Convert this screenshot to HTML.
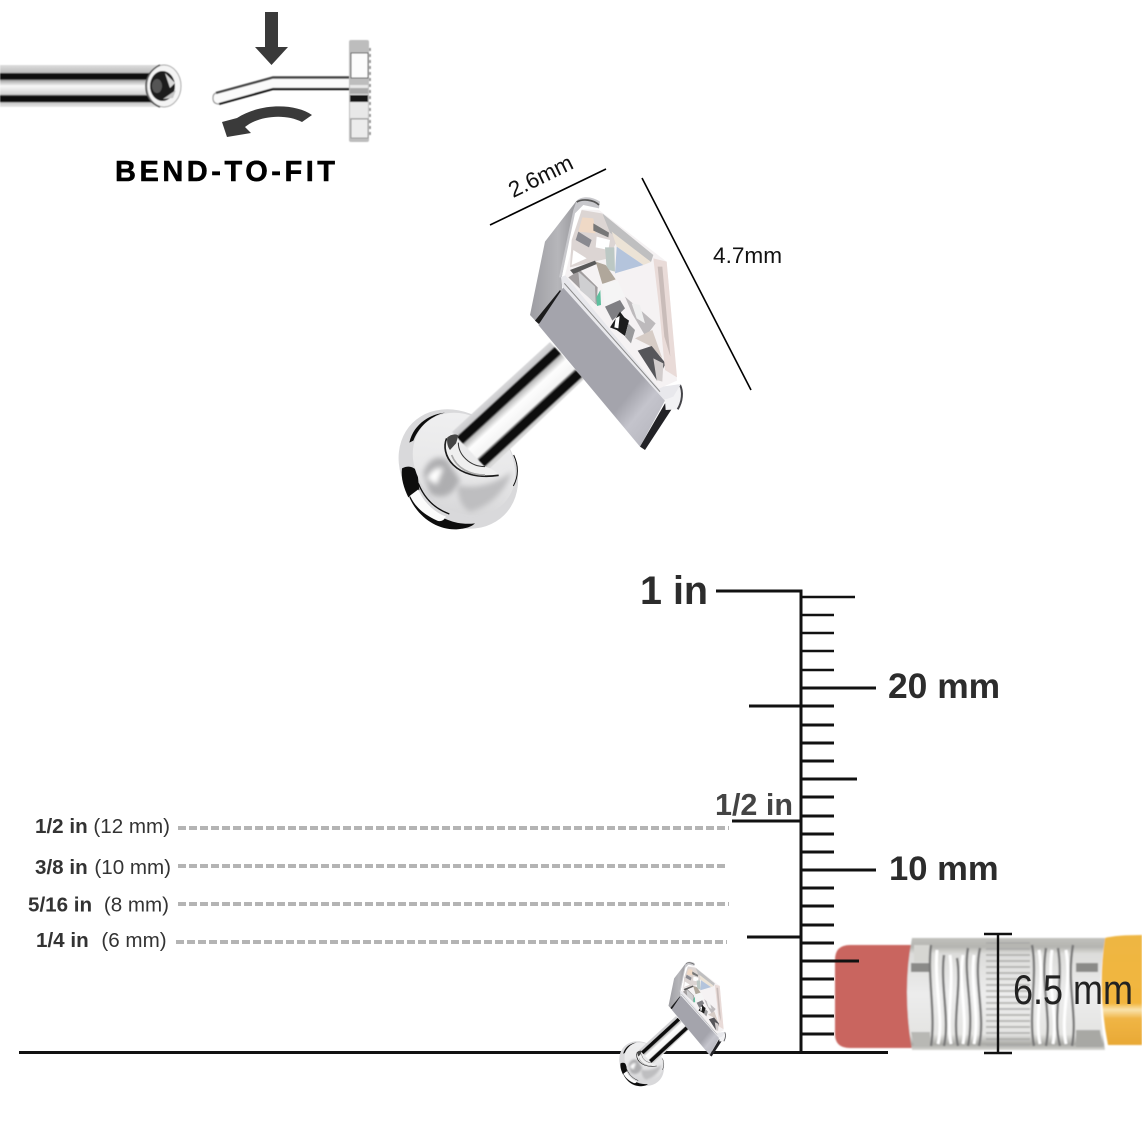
<!DOCTYPE html>
<html><head><meta charset="utf-8"><style>
html,body{margin:0;padding:0;background:#fff;width:1142px;height:1142px;overflow:hidden}
svg{display:block}
text{font-family:"Liberation Sans",sans-serif}
</style></head><body>
<svg width="1142" height="1142" viewBox="0 0 1142 1142" xmlns="http://www.w3.org/2000/svg">
<defs>
<filter id="b1" x="-10%" y="-10%" width="120%" height="120%"><feGaussianBlur stdDeviation=".8"/></filter>
<filter id="b2" x="-10%" y="-10%" width="120%" height="120%"><feGaussianBlur stdDeviation=".45"/></filter>
<filter id="b3" x="-30%" y="-30%" width="160%" height="160%"><feGaussianBlur stdDeviation="8"/></filter>
<linearGradient id="rod" x1="0" y1="0" x2="0" y2="1">
<stop offset="0" stop-color="#dedede"/><stop offset=".18" stop-color="#bcbcbc"/><stop offset=".21" stop-color="#0a0a0a"/><stop offset=".33" stop-color="#0a0a0a"/><stop offset=".37" stop-color="#aaa"/><stop offset=".5" stop-color="#f8f8f8"/><stop offset=".7" stop-color="#d2d2d2"/><stop offset=".74" stop-color="#0a0a0a"/><stop offset=".87" stop-color="#0a0a0a"/><stop offset=".9" stop-color="#c8c8c8"/><stop offset="1" stop-color="#e8e8e8"/>
</linearGradient>
<linearGradient id="stem" gradientUnits="userSpaceOnUse" x1="550" y1="342" x2="584" y2="379">
<stop offset="0" stop-color="#d8d8da"/><stop offset=".12" stop-color="#c9c9cb"/><stop offset=".15" stop-color="#0a0a0a"/><stop offset=".3" stop-color="#0a0a0a"/><stop offset=".34" stop-color="#b8b8b8"/><stop offset=".48" stop-color="#fdfdfd"/><stop offset=".72" stop-color="#f4f4f4"/><stop offset=".78" stop-color="#0a0a0a"/><stop offset=".93" stop-color="#0a0a0a"/><stop offset=".96" stop-color="#c4c4c4"/><stop offset="1" stop-color="#d8d8d8"/>
</linearGradient>
<linearGradient id="front" gradientUnits="userSpaceOnUse" x1="545" y1="330" x2="660" y2="425">
<stop offset="0" stop-color="#a4a4ac"/><stop offset=".4" stop-color="#c4c4cc"/><stop offset=".75" stop-color="#bcbcc4"/><stop offset="1" stop-color="#b0b0b8"/>
</linearGradient>
<linearGradient id="side" x1="0" y1="0" x2="1" y2="0">
<stop offset="0" stop-color="#9d9da2"/><stop offset=".6" stop-color="#b6b6ba"/><stop offset="1" stop-color="#98989c"/>
</linearGradient>
<linearGradient id="disc" x1="0" y1="0" x2="1" y2="1">
<stop offset="0" stop-color="#f2f2f3"/><stop offset=".55" stop-color="#e8e8e9"/><stop offset="1" stop-color="#cfcfd1"/>
</linearGradient>
<linearGradient id="fer" x1="0" y1="0" x2="0" y2="1">
<stop offset="0" stop-color="#c0c0bc"/><stop offset=".08" stop-color="#b4b4b0"/><stop offset=".14" stop-color="#dcdcda"/><stop offset=".5" stop-color="#ececec"/><stop offset=".86" stop-color="#e4e4e2"/><stop offset=".95" stop-color="#a8a8a4"/><stop offset="1" stop-color="#d8d8d4"/>
</linearGradient>
<linearGradient id="yel" x1="0" y1="0" x2="0" y2="1">
<stop offset="0" stop-color="#eeb643"/><stop offset=".62" stop-color="#f2b53d"/><stop offset=".68" stop-color="#f9e2ac"/><stop offset=".76" stop-color="#f0b545"/><stop offset="1" stop-color="#e8a835"/>
</linearGradient>
<g id="stud">
 <g transform="translate(390 400) scale(.33333)" filter="url(#b2)">
  <ellipse cx="205" cy="207" rx="195" ry="162" transform="rotate(45 205 207)" fill="#d9d9db"/>
  <path d="M36 205C55 195 72 200 82 215L88 270L55 292C42 265 32 235 36 205Z" fill="#0e0e0e"/>
  <path d="M58 292C85 352 140 390 200 388C228 386 245 380 255 370C190 378 120 350 84 268Z" fill="#0e0e0e"/>
  <path d="M60 287L85 268C100 305 130 335 168 350C160 364 150 366 140 361C105 345 75 322 60 287Z" fill="#fbfbfb"/>
  <ellipse cx="222" cy="192" rx="168" ry="138" transform="rotate(45 222 192)" fill="url(#disc)"/>
  <path d="M70 122C90 72 130 46 165 38C125 42 72 68 58 128Z" fill="#0e0e0e"/>
  <path d="M85 250C105 300 140 328 178 342" fill="none" stroke="#111" stroke-width="4"/>
  <path d="M100 220C112 180 140 165 170 178L210 240C190 290 150 300 120 280Z" fill="#aeaeb0" filter="url(#b3)"/>
  <path d="M110 235C125 205 145 200 160 205L140 255Z" fill="#fff" filter="url(#b3)"/>
  <path d="M200 255C260 270 320 250 365 215C350 270 300 320 240 335C210 320 205 285 200 255Z" fill="#bebec0" filter="url(#b3)"/>
  <path d="M371 165C385 195 388 225 370 258" fill="none" stroke="#111" stroke-width="3"/>
 </g>
 <polygon points="550,342 584,379 488,470 452,432" fill="url(#stem)" filter="url(#b2)"/>
 <g transform="translate(390 400) scale(.33333)" filter="url(#b2)">
  <path d="M170 115C195 98 210 108 205 128C205 165 240 200 285 200C305 205 320 215 326 226C240 250 150 190 170 115Z" fill="#efefef"/>
  <path d="M170 115C150 160 190 245 326 226" fill="none" stroke="#1a1a1a" stroke-width="5"/>
  <path d="M172 112C185 102 200 100 205 108L198 130L180 150C172 140 170 125 172 112Z" fill="#444"/>
  <path d="M205 128C205 165 240 200 285 200" fill="none" stroke="#333" stroke-width="3"/>
  <path d="M185 165C200 205 240 225 285 225" fill="none" stroke="#aaa" stroke-width="5"/>
 </g>
 <g transform="translate(525 190) scale(.33333)" filter="url(#b2)">
  <polygon points="155,32 60,155 15,375 40,402 112,310 110,262 148,62" fill="url(#side)"/>
  <path d="M155,32C170,18 200,18 225,35L222,55L175,45L150,70L110,262L102,262L145,60Z" fill="#c8c8cc"/>
  <path d="M155,36C172,26 205,28 222,45" fill="none" stroke="#555" stroke-width="5"/>
  <polygon points="30,392 105,300 115,312 42,402" fill="#1a1a1e"/>
  <polygon points="40,405 115,292 420,632 345,770" fill="url(#front)"/>
  <polygon points="345,770 420,640 445,650 360,780" fill="#222226"/>
  <polygon points="420,632 440,610 468,585 472,620 458,658 422,660" fill="#f2f2f4"/>
  <path d="M465,585C475,605 472,635 458,658" fill="none" stroke="#44444a" stroke-width="6"/>
  <polygon points="108,262 122,255 412,590 468,582 445,620 418,630 112,290" fill="#e8e8ec"/>
  <path d="M118,280L405,605" stroke="#888" stroke-width="3" fill="none"/>
  <polygon points="170,58 222,60 425,215 456,572 402,596 120,255" fill="#f5f2f3"/>
  <polygon points="170,60 230,70 285,135 250,205 135,232 140,150" fill="#dcd5d3"/>
  <polygon points="172,82 205,85 212,130 160,125" fill="#efd9c6"/>
  <polygon points="205,100 252,128 250,142 205,122" fill="#777"/>
  <polygon points="160,125 200,150 192,172 152,150" fill="#8a8a90"/>
  <polygon points="215,140 255,150 250,180 212,172" fill="#fff"/>
  <polygon points="145,180 185,205 140,225" fill="#fff"/>
  <polygon points="232,70 385,195 378,216 255,128" fill="#bfbfc0"/>
  <polygon points="260,125 378,216 355,225 275,170" fill="#ece3d6"/>
  <polygon points="275,170 355,225 270,250" fill="#b4c4dc"/>
  <polygon points="240,172 268,172 270,245 245,238" fill="#bcc8c4"/>
  <polygon points="212,215 242,225 272,268 232,282" fill="#b0a79b"/>
  <polygon points="130,262 165,240 218,292 215,345" fill="#a19d9e"/>
  <polygon points="160,245 210,290 212,340 165,300" fill="#cfcfd1"/>
  <polygon points="135,240 210,212 215,222 145,252" fill="#5a5a5a"/>
  <polygon points="214,322 226,300 228,345 216,348" fill="#5fbf9e"/>
  <polygon points="230,282 278,272 300,320 240,350" fill="#f5f5f5"/>
  <polygon points="240,350 285,330 300,355 262,392" fill="#7f7f83"/>
  <polygon points="300,320 392,400 362,440 322,372" fill="#bdbabc"/>
  <polygon points="320,340 345,345 360,400 335,385" fill="#efefef"/>
  <polygon points="255,412 285,365 298,382 312,392 300,438 275,420" fill="#1c1c1e"/>
  <polygon points="272,385 284,378 280,415 268,412" fill="#fff"/>
  <polygon points="310,400 330,420 318,460 300,440" fill="#9a9a9c"/>
  <polygon points="330,445 382,420 412,505 380,470" fill="#d6ccc6"/>
  <polygon points="338,482 380,468 422,520 396,572" fill="#56565a"/>
  <polygon points="385,505 415,520 412,575 395,570" fill="#d2cdcd"/>
  <polygon points="385,205 425,215 456,562 420,540 402,350" fill="#e9dbd8"/>
  <polygon points="398,230 412,230 436,500 418,440" fill="#c9bcb9"/>
 </g>
</g>
</defs>

<!-- rod top-left -->
<rect x="0" y="65" width="166" height="42" fill="url(#rod)" filter="url(#b2)"/>
<g filter="url(#b2)">
<ellipse cx="164" cy="86" rx="17" ry="21" fill="#f4f4f4" stroke="#aaa" stroke-width="1"/>
<path d="M160 65C150 70 146 78 146 86C146 95 150 103 160 107" fill="none" stroke="#555" stroke-width="1.5"/>
<ellipse cx="162.5" cy="86" rx="12.5" ry="15" fill="#1a1a1a"/>
<polygon points="165,73 175,83 170,88" fill="#d8d8d8"/>
<polygon points="163,99 176,90 173,98" fill="#c4c4c4"/>
<ellipse cx="157" cy="86" rx="5" ry="7" fill="#555"/>
</g>

<!-- down arrow -->
<polygon points="265,12 278,12 278,47 288,47 271.5,65 255,47 265,47" fill="#3a3a3a"/>
<!-- bent pin -->
<g filter="url(#b2)">
<path d="M217 92L273 77H350V89H273L219 104Q213 104 213 98Q213 94 217 92Z" fill="#fafafa"/>
<path d="M216 93L273 77.5H350" fill="none" stroke="#444" stroke-width="2.4"/>
<path d="M219 104L273 89H350" fill="none" stroke="#111" stroke-width="2.2"/>
<path d="M219 104Q213 104 213 98Q213 94 216 93" fill="none" stroke="#999" stroke-width="1.2"/>
</g>
<!-- side plate -->
<g filter="url(#b2)">
<rect x="349" y="40" width="20" height="102" rx="2" fill="#bdbdbd"/>
<rect x="351" y="53" width="17" height="25" fill="#fcfcfc" stroke="#555" stroke-width="1"/>
<rect x="350" y="85" width="18" height="33" fill="#e8e8e8"/>
<rect x="350" y="95" width="18" height="7" fill="#151515"/>
<rect x="350" y="88" width="18" height="6" fill="#aaa"/>
<rect x="351" y="119" width="17" height="19" fill="#ececec" stroke="#999" stroke-width="1"/>
<path d="M370 48V138" stroke="#888" stroke-width="1.6" stroke-dasharray="3 3" fill="none"/>
</g>
<!-- curved arrow -->
<path d="M312 115C295 103 260 103 237 118L222 122L227 137L251 133L245 127C258 116 285 113 302 122Z" fill="#3a3a3a"/>
<text x="115" y="181" font-size="29" font-weight="700" fill="#000" stroke="#000" stroke-width=".5" textLength="220" lengthAdjust="spacing">BEND-TO-FIT</text>

<!-- dims -->
<line x1="490" y1="225" x2="606" y2="169" stroke="#000" stroke-width="1.6"/>
<line x1="642" y1="178" x2="751" y2="390" stroke="#000" stroke-width="1.6"/>
<text x="0" y="0" font-size="22.5" fill="#111" text-anchor="middle" transform="translate(544 183) rotate(-26)">2.6mm</text>
<text x="713" y="263" font-size="22.6" fill="#111">4.7mm</text>

<use href="#stud"/>

<!-- labels -->
<g font-size="20.6" fill="#333">
<text x="35" y="833"><tspan font-weight="700">1/2 in</tspan> (12 mm)</text>
<text x="35" y="874"><tspan font-weight="700">3/8 in</tspan> <tspan dx="1">(10 mm)</tspan></text>
<text x="28" y="911.5"><tspan font-weight="700">5/16 in</tspan> <tspan dx="6">(8 mm)</tspan></text>
<text x="36" y="947"><tspan font-weight="700">1/4 in</tspan> <tspan dx="7">(6 mm)</tspan></text>
</g>
<g stroke="#b4b4b4" stroke-width="4" stroke-dasharray="8 3">
<line x1="178" y1="828" x2="729" y2="828"/>
<line x1="178" y1="866" x2="728" y2="866"/>
<line x1="178" y1="904" x2="729" y2="904"/>
<line x1="176" y1="942" x2="727" y2="942"/>
</g>

<!-- pencil -->
<g filter="url(#b1)">
<path d="M850 945H912L914 1048H850Q835 1048 835 1034V960Q835 945 850 945Z" fill="#c9655f"/>
<path d="M912 938H1105Q1096 990 1105 1050H912Q902 990 912 938Z" fill="url(#fer)"/>
<rect x="911" y="963" width="18" height="9" fill="#8a8a88"/>
<rect x="914" y="945" width="16" height="17" fill="#d6d6d2"/>
<rect x="1076" y="963" width="22" height="9" fill="#8a8a88"/>
<path d="M911 1032H930V1046H914Z" fill="#b8b8b4"/>
<path d="M1076 1030H1100L1103 1047H1076Z" fill="#a8a8a4"/>
<g fill="none" stroke="#777" stroke-width="2.4">
<path d="M931 945C927 975 936 1015 931 1046M944 955C940 985 950 1020 944 1046M957 958C962 985 952 1020 958 1046M968 948C963 975 975 1012 968 1046M980 948C973 980 986 1015 979 1046"/>
<path d="M1032 945C1038 975 1028 1015 1034 1046M1046 948C1040 985 1052 1015 1046 1046M1058 948C1064 985 1052 1015 1060 1046M1073 945C1066 985 1078 1015 1072 1046"/>
</g>
<g fill="none" stroke="#fff" stroke-width="3">
<path d="M937 950C934 985 944 1020 938 1044M950 955C954 985 946 1020 951 1044M963 955C958 985 968 1015 963 1044M974 955C970 985 980 1015 974 1044M1039 950C1045 985 1034 1015 1040 1044M1052 950C1047 985 1058 1015 1053 1044M1066 950C1072 985 1060 1015 1066 1044"/>
</g>
<g stroke="#a8a8a6" stroke-width="1.4">
<line x1="986" y1="943" x2="1030" y2="943"/><line x1="986" y1="949" x2="1030" y2="949"/><line x1="986" y1="955" x2="1030" y2="955"/><line x1="986" y1="961" x2="1030" y2="961"/><line x1="986" y1="967" x2="1030" y2="967"/><line x1="986" y1="973" x2="1030" y2="973"/><line x1="986" y1="979" x2="1030" y2="979"/><line x1="986" y1="985" x2="1030" y2="985"/><line x1="986" y1="991" x2="1030" y2="991"/><line x1="986" y1="997" x2="1030" y2="997"/><line x1="986" y1="1003" x2="1030" y2="1003"/><line x1="986" y1="1009" x2="1030" y2="1009"/><line x1="986" y1="1015" x2="1030" y2="1015"/><line x1="986" y1="1021" x2="1030" y2="1021"/><line x1="986" y1="1027" x2="1030" y2="1027"/><line x1="986" y1="1033" x2="1030" y2="1033"/><line x1="986" y1="1039" x2="1030" y2="1039"/><line x1="986" y1="1045" x2="1030" y2="1045"/>
</g>
<path d="M1105 938Q1116 935 1142 935V1045H1108Q1097 990 1105 938Z" fill="url(#yel)"/>
</g>

<!-- ruler -->
<g stroke="#111" fill="none">
<path d="M716 591H801V1052" stroke-width="3"/>
<g stroke-width="2.4">
<line x1="801" y1="597" x2="855" y2="597"/>
<line x1="801" y1="615" x2="834" y2="615"/>
<line x1="801" y1="633" x2="834" y2="633"/>
<line x1="801" y1="651" x2="834" y2="651"/>
<line x1="801" y1="670" x2="834" y2="670"/>
</g>
<g stroke-width="3">
<line x1="801" y1="688" x2="876" y2="688"/>
<line x1="749" y1="706" x2="834" y2="706"/>
<line x1="801" y1="725" x2="834" y2="725"/>
<line x1="801" y1="743" x2="834" y2="743"/>
<line x1="801" y1="761" x2="834" y2="761"/>
<line x1="801" y1="779" x2="857" y2="779"/>
<line x1="801" y1="797" x2="834" y2="797"/>
<line x1="801" y1="816" x2="834" y2="816"/>
<line x1="732" y1="821" x2="801" y2="821"/>
<line x1="801" y1="834" x2="834" y2="834"/>
<line x1="801" y1="852" x2="834" y2="852"/>
<line x1="801" y1="870" x2="876" y2="870"/>
<line x1="801" y1="888" x2="834" y2="888"/>
<line x1="801" y1="906" x2="834" y2="906"/>
<line x1="801" y1="925" x2="834" y2="925"/>
<line x1="747" y1="937" x2="801" y2="937"/>
<line x1="801" y1="943" x2="834" y2="943"/>
<line x1="801" y1="961" x2="859" y2="961"/>
<line x1="801" y1="979" x2="834" y2="979"/>
<line x1="801" y1="997" x2="834" y2="997"/>
<line x1="801" y1="1016" x2="834" y2="1016"/>
<line x1="801" y1="1034" x2="834" y2="1034"/>
<line x1="19" y1="1052.5" x2="888" y2="1052.5"/>
</g>
<path d="M984 934H1012M998 934V1053M984 1053H1012" stroke-width="2.4"/>
</g>

<text x="640" y="604" font-size="39.5" font-weight="700" fill="#2c2c2c">1 in</text>
<text x="888" y="698" font-size="35.4" font-weight="700" fill="#2c2c2c">20 mm</text>
<text x="889" y="880" font-size="34.6" font-weight="700" fill="#2c2c2c">10 mm</text>
<text x="715" y="815" font-size="30.5" font-weight="700" fill="#444">1/2 in</text>
<text x="1013" y="1004" font-size="42" fill="#222" textLength="120" lengthAdjust="spacingAndGlyphs">6.5 mm</text>

<use href="#stud" transform="translate(469.75 887.75) scale(.375)"/>
</svg>
</body></html>
